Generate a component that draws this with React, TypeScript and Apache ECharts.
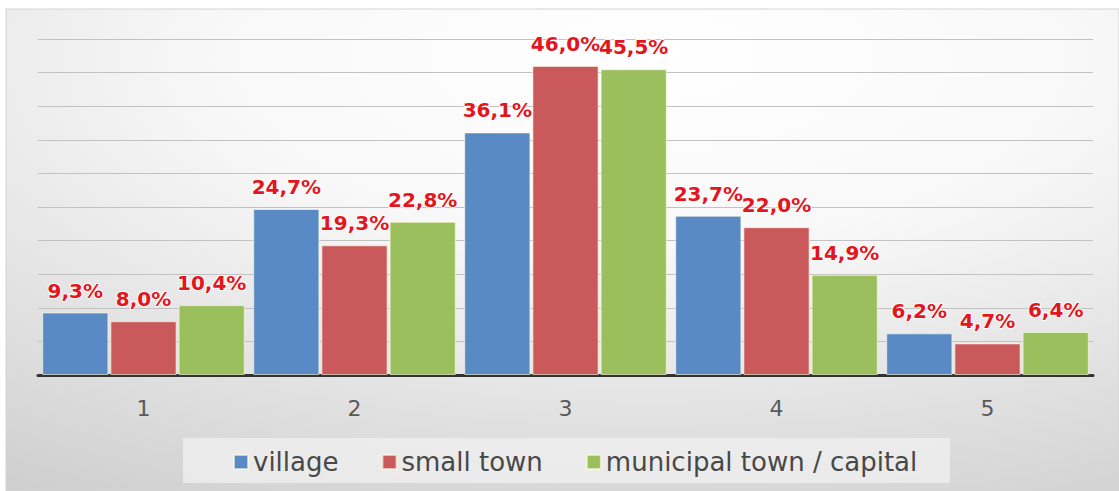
import React, { useEffect, useRef } from "react";
import * as echarts from "echarts";

const categories = ["1", "2", "3", "4", "5"];
const village = [9.3, 24.7, 36.1, 23.7, 6.2];
const smallTown = [8.0, 19.3, 46.0, 22.0, 4.7];
const municipal = [10.4, 22.8, 45.5, 14.9, 6.4];
const seriesNames = ["village", "small town", "municipal town / capital"];
const seriesColors = ["#5a8ac6", "#c9595a", "#9cbf5e"];

const fmt = (v: number) => v.toFixed(1).replace(".", ",") + "%";

export default function App() {
  const ref = useRef<HTMLDivElement>(null);
  useEffect(() => {
    if (!ref.current) return;
    const chart = echarts.init(ref.current, undefined, { renderer: "svg" });
    const data = [village, smallTown, municipal];
    chart.setOption({
      animation: false,
      graphic: [
        {
          type: "rect",
          z: -10,
          shape: { x: 6, y: 9, width: 1113, height: 482 },
          style: {
            fill: {
              type: "radial",
              x: 0.58,
              y: 0.1,
              r: 1.3,
              colorStops: [
                { offset: 0, color: "#ffffff" },
                { offset: 0.3, color: "#f8f8f8" },
                { offset: 1, color: "#c0c0c0" },
              ],
            },
            stroke: "#d4d4d4",
            lineWidth: 1,
          },
        },
        {
          type: "rect",
          z: -5,
          shape: { x: 183, y: 438, width: 767, height: 45 },
          style: { fill: "rgba(240,240,240,0.75)" },
        },
      ],
      grid: { left: 38, right: 26, top: 39, bottom: 116, containLabel: false },
      legend: {
        left: 228,
        top: 444,
        itemWidth: 14,
        itemHeight: 14,
        itemGap: 43,
        icon: "rect",
        textStyle: { fontFamily: "DejaVu Sans", fontSize: 26, color: "#484848" },
        data: seriesNames,
      },
      xAxis: {
        type: "category",
        data: categories,
        axisLine: { lineStyle: { color: "#333333", width: 3 } },
        axisTick: { show: false },
        axisLabel: { fontFamily: "DejaVu Sans", fontSize: 22, color: "#595959", margin: 22 },
      },
      yAxis: {
        type: "value",
        min: 0,
        max: 50,
        interval: 5,
        axisLabel: { show: false },
        axisLine: { show: false },
        axisTick: { show: false },
        splitLine: { lineStyle: { color: "#c2c2c2", width: 1 } },
      },
      series: seriesNames.map((name, i) => ({
        name,
        type: "bar",
        data: data[i],
        barGap: "3%",
        barCategoryGap: "4%",
        itemStyle: { color: seriesColors[i], borderColor: "rgba(255,255,225,0.6)", borderWidth: 1 },
        label: {
          show: true,
          position: "top",
          distance: 12,
          formatter: (p: any) => fmt(p.value),
          fontFamily: "DejaVu Sans",
          fontWeight: "bold",
          fontSize: 20,
          color: "#e3161d",
          textBorderColor: "rgba(255,255,255,0.9)",
          textBorderWidth: 2,
        },
      })),
    });
    return () => chart.dispose();
  }, []);
  return (
    <div
      ref={ref}
      style={{ position: "absolute", left: 0, top: 0, width: 1119, height: 491 }}
    />
  );
}
